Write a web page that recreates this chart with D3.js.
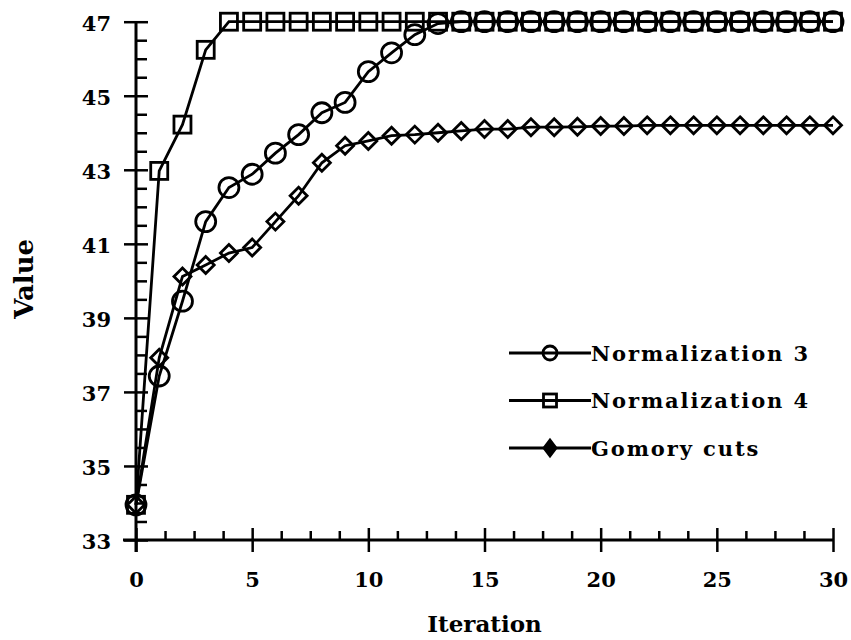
<html>
<head>
<script src="https://d3js.org/d3.v7.min.js"></script>
<style>
  body { margin: 0; background: #fff; }
  text { font-family: "DejaVu Serif", serif; font-weight: bold; fill: #000; }
  .axis text { font-size: 21px; }
  .axis line { stroke: #000; stroke-width: 2.5; }
  .axis .domain { stroke: none; }
</style>
</head>
<body>
<svg id="chart" width="851" height="640"></svg>
<script>
// data
const iterations = d3.range(0, 31);
const norm3 = [33.95, 37.43, 39.45, 41.6, 42.52, 42.88, 43.45, 43.95, 44.54, 44.82, 45.65, 46.16,
               46.65, 46.95, 47, 47, 47, 47, 47, 47, 47, 47, 47, 47, 47, 47, 47, 47, 47, 47, 47];
const norm4 = [33.95, 42.97, 44.22, 46.24, 47, 47, 47, 47, 47, 47, 47, 47, 47, 47, 47, 47, 47,
               47, 47, 47, 47, 47, 47, 47, 47, 47, 47, 47, 47, 47, 47];
const gomory = [33.95, 37.92, 40.12, 40.43, 40.75, 40.9, 41.6, 42.3, 43.19, 43.65, 43.78, 43.92,
                43.95, 44.0, 44.05, 44.1, 44.1, 44.15, 44.15, 44.16, 44.18, 44.18, 44.2, 44.2,
                44.2, 44.2, 44.2, 44.2, 44.2, 44.2, 44.2];
const seriesNames = ["Normalization 3", "Normalization 4", "Gomory cuts"];
const xMajor = [0, 5, 10, 15, 20, 25, 30];
const yMajor = [33, 35, 37, 39, 41, 43, 45, 47];

const svg = d3.select('svg#chart');
const margins = {top: 21.7, left: 136, right: 18, bottom: 100};
const width = +svg.attr('width');
const height = +svg.attr('height');

const xScale = d3.scaleLinear().domain([0, 30]).range([margins.left, width - margins.right]);
const yScale = d3.scaleLinear().domain([33, 47]).range([height - margins.bottom, margins.top]);

const x0 = xScale(0), y0 = yScale(33);

// axis lines
svg.append('line').attr('x1', x0 - 13).attr('x2', xScale(30)).attr('y1', y0).attr('y2', y0)
   .attr('stroke', '#000').attr('stroke-width', 3);
svg.append('line').attr('x1', x0).attr('x2', x0).attr('y1', yScale(47)).attr('y2', y0 + 12)
   .attr('stroke', '#000').attr('stroke-width', 3);

// y axis: majors both sides, minors on the inside
svg.append('g').attr('class', 'axis').attr('transform', `translate(${x0},0)`)
   .call(d3.axisLeft(yScale).tickValues(yMajor).tickSize(12).tickPadding(13).tickFormat(d3.format('d')))
   .selectAll('text').attr('dy', '0.4em');
svg.append('g').attr('class', 'axis').attr('transform', `translate(${x0},0)`)
   .call(d3.axisLeft(yScale).tickValues(yMajor).tickSize(-12).tickFormat(''));
svg.append('g').attr('class', 'axis').attr('transform', `translate(${x0},0)`)
   .call(d3.axisLeft(yScale).tickValues(d3.range(33, 47.01, 0.5).filter(v => v % 2 !== 1)).tickSize(-11).tickFormat(''));

// x axis: majors both sides, minors upward
svg.append('g').attr('class', 'axis').attr('transform', `translate(0,${y0})`)
   .call(d3.axisBottom(xScale).tickValues(xMajor).tickSize(12).tickPadding(20));
svg.append('g').attr('class', 'axis').attr('transform', `translate(0,${y0})`)
   .call(d3.axisBottom(xScale).tickValues(xMajor).tickSize(-12).tickFormat(''));
svg.append('g').attr('class', 'axis').attr('transform', `translate(0,${y0})`)
   .call(d3.axisBottom(xScale).tickValues(d3.range(0, 30.01, 1.25).filter(v => v % 5 !== 0)).tickSize(-9).tickFormat(''));

// axis titles
svg.append('text').attr('x', (xScale(0) + xScale(30)) / 2).attr('y', 632)
   .attr('text-anchor', 'middle').style('font-size', '23px').text('Iteration');
svg.append('text').attr('transform', `translate(33,${(yScale(33) + yScale(47)) / 2 - 2}) rotate(-90)`)
   .attr('text-anchor', 'middle').style('font-size', '26px').text('Value');

// markers
function drawMarker(g, kind, size) {
  if (kind === 'circle') {
    g.append('circle').attr('r', size).attr('fill', 'none');
  } else if (kind === 'square') {
    g.append('rect').attr('x', -size).attr('y', -size).attr('width', size * 2).attr('height', size * 2).attr('fill', 'none');
  } else {
    g.append('path').attr('d', `M0,${-size}L${size},0L0,${size}L${-size},0Z`).attr('fill', 'none');
  }
}

const series = [
  {name: seriesNames[0], values: norm3, kind: 'circle', size: 10},
  {name: seriesNames[1], values: norm4, kind: 'square', size: 8.5},
  {name: seriesNames[2], values: gomory, kind: 'diamond', size: 8.5}
];

const line = d3.line().x((d, i) => xScale(iterations[i])).y(d => yScale(d));

series.forEach(s => {
  svg.append('path').attr('d', line(s.values)).attr('fill', 'none')
     .attr('stroke', '#000').attr('stroke-width', 2.8);
  s.values.forEach((v, i) => {
    const g = svg.append('g').attr('transform', `translate(${xScale(iterations[i])},${yScale(v)})`)
                 .attr('stroke', '#000').attr('stroke-width', 2.8);
    drawMarker(g, s.kind, s.size);
  });
});

// legend
const legend = svg.append('g').attr('transform', 'translate(509,353)');
series.forEach((s, i) => {
  const row = legend.append('g').attr('transform', `translate(0,${i * 47.5})`);
  row.append('line').attr('x1', 0).attr('x2', 82).attr('stroke', '#000').attr('stroke-width', 3);
  const g = row.append('g').attr('transform', 'translate(41,0)').attr('stroke', '#000').attr('stroke-width', 2.8);
  drawMarker(g, s.kind, s.kind === 'circle' ? 7 : 6.5);
  if (s.kind === 'diamond') g.select('path').attr('fill', '#000').attr('d', 'M0,-8L6,0L0,8L-6,0Z');
  row.append('text').attr('x', 82).attr('y', 7.5).style('font-size', '21px')
     .style('letter-spacing', '1.9px').text(s.name);
});
</script>
</body>
</html>
